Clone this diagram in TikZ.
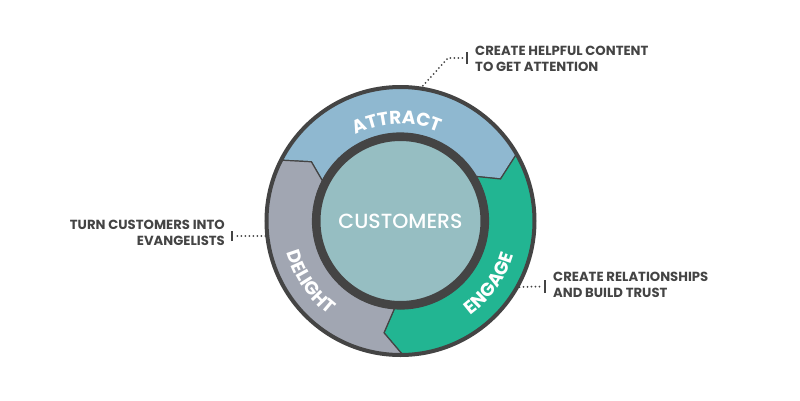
\documentclass[tikz,border=0pt]{standalone}
\usepackage{fontspec}
\setmainfont{Poppins}
\newfontfamily\hubfont{Poppins Medium}
\usetikzlibrary{decorations.text}
\definecolor{FlyDark}{HTML}{444444}
\definecolor{FlyAttract}{HTML}{8FB8D0}
\definecolor{FlyEngage}{HTML}{22B592}
\definecolor{FlyDelight}{HTML}{A1A6B2}
\definecolor{FlyHub}{HTML}{96BEC2}

\begin{document}
\begin{tikzpicture}[
                x=1pt, y=1pt,
                stage/.style={draw=FlyDark, line width=1.2pt, line join=miter},
                note/.style={inner sep=0pt, text=FlyDark, font=\bfseries\fontsize{13.2}{16}\selectfont},
                leader/.style={draw=FlyDark, line width=2pt, line cap=round, dash pattern=on 0pt off 4pt},
                pin/.style={draw=FlyDark, line width=2.5pt},
                ringtext/.style={decorate, decoration={text along path, text align=center,
                    text={|\bfseries\fontsize{18.5}{18.5}\selectfont\color{white}|#1}}}
            ]
                \useasboundingbox (-400.5,-179) rectangle (399.5,221);

                \coordinate (tipAE) at (22.8:108.5);
                \coordinate (tipED) at (-98.4:113);
                \coordinate (tipDA) at (146.4:107);

                % the three stages
                \draw [stage, fill=FlyAttract] (153:134) arc[start angle=153, end angle=30, radius=134]
                    -- (tipAE) -- (30.4:88) arc[start angle=30.4, end angle=152.7, radius=88] -- (tipDA) -- cycle;
                \draw [stage, fill=FlyEngage] (30:134) arc[start angle=30, end angle=-89, radius=134]
                    -- (tipED) -- (-94:88) arc[start angle=-94, end angle=30.4, radius=88] -- (tipAE) -- cycle;
                \draw [stage, fill=FlyDelight] (271:134) arc[start angle=271, end angle=153, radius=134]
                    -- (tipDA) -- (152.7:88) arc[start angle=152.7, end angle=266, radius=88] -- (tipED) -- cycle;
                \draw [draw=FlyDark, line width=4pt] (0,0) circle[radius=134];

                \node (hub) [circle, inner sep=0pt, minimum size=168pt, fill=FlyHub, draw=FlyDark, line width=8pt,
                    text=white, font=\hubfont\fontsize{20.5}{20.5}\selectfont] at (0,0) {CUSTOMERS};

                \path [ringtext=ATTRACT] (130:97) arc[start angle=130, end angle=54, radius=97];
                \path [ringtext=ENGAGE] (-75:118) arc[start angle=-75, end angle=5, radius=118];
                \path [ringtext=DELIGHT] (174:118) arc[start angle=174, end angle=254, radius=118];

                % callouts
                \node (attractnote) [note, anchor=west, align=left] at (74.5,162.5) {CREATE HELPFUL CONTENT\\TO GET ATTENTION};
                \node (delightnote) [note, anchor=east, align=right] at (-175.5,-12) {TURN CUSTOMERS INTO\\EVANGELISTS};
                \node (engagenote) [note, anchor=west, align=left] at (152.5,-63.5) {CREATE RELATIONSHIPS\\AND BUILD TRUST};

                \coordinate (attractpin) at (80.6:137);
                \coordinate (attractbend) at (47.5,163);
                \coordinate (attracttick) at (66.5,163);
                \coordinate (delightpin) at (-135.2,-15);
                \coordinate (delighttick) at (-168.5,-15);
                \coordinate (engagepin) at (119,-66);
                \coordinate (engagetick) at (144.5,-65.5);

                \draw [leader] (attractpin) -- (attractbend) -- ([xshift=-3pt]attracttick);
                \draw [leader] (delightpin) -- ([xshift=3pt]delighttick);
                \draw [leader] (engagepin) -- ([xshift=-3pt]engagetick);

                \draw [pin] ([yshift=-6pt]attracttick) -- ([yshift=6pt]attracttick);
                \draw [pin] ([yshift=-5pt]delighttick) -- ([yshift=5pt]delighttick);
                \draw [pin] ([yshift=-6.5pt]engagetick) -- ([yshift=6.5pt]engagetick);
            \end{tikzpicture}
\end{document}
